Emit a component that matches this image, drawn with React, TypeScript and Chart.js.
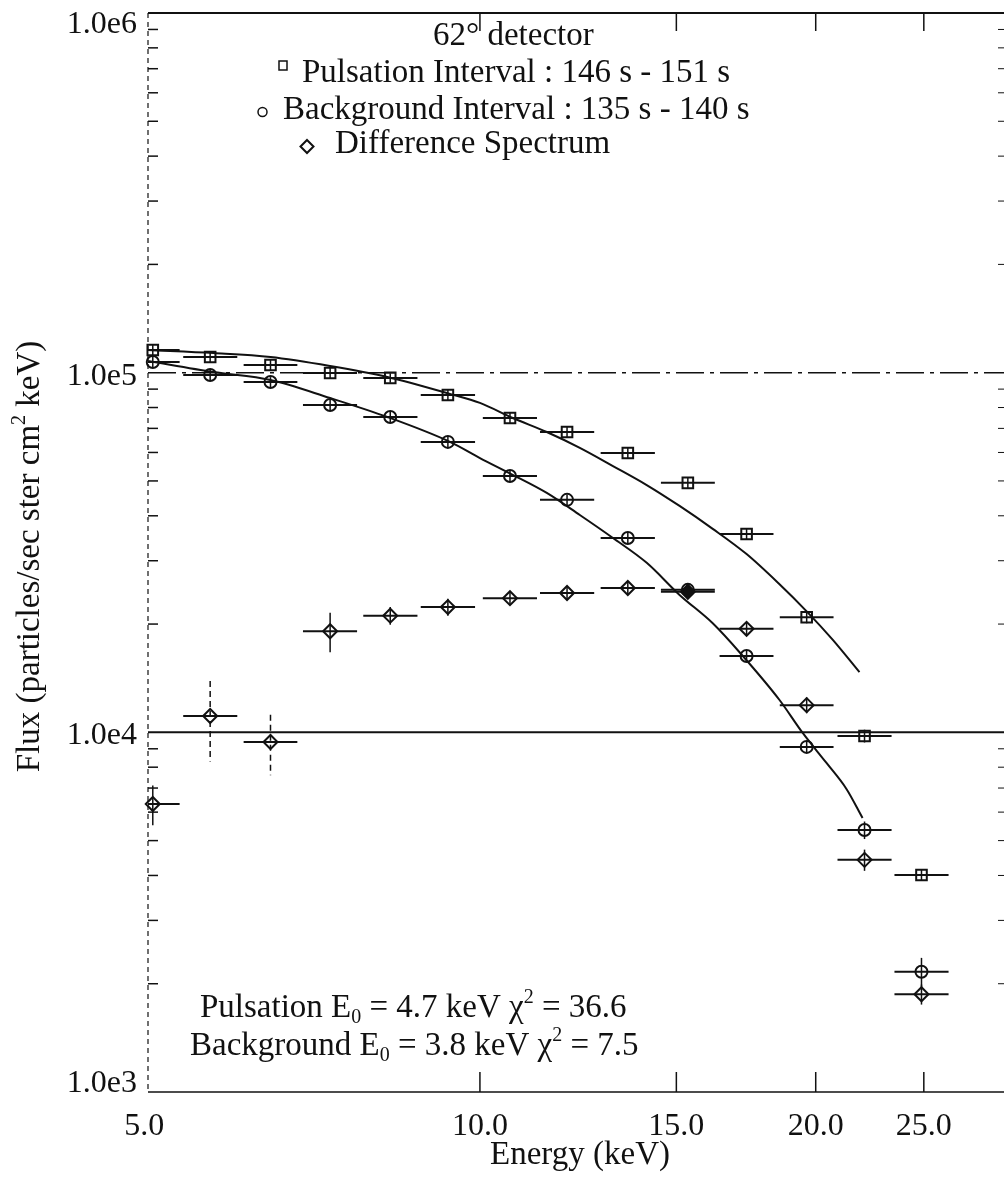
import React, { useEffect, useRef } from "react";
import { Chart, registerables } from "chart.js";

Chart.register(...registerables);

// ---- data ----
const energies = [5.09, 5.73, 6.49, 7.34, 8.31, 9.36, 10.64, 11.97, 13.57, 15.36, 17.34, 19.63, 22.12, 24.88];
const binLow = [4.81, 5.42, 6.14, 6.94, 7.86, 8.85, 10.06, 11.32, 12.83, 14.53, 16.4, 18.57, 20.92, 23.53];
const binHigh = [5.38, 6.06, 6.86, 7.76, 8.79, 9.9, 11.25, 12.66, 14.35, 16.24, 18.33, 20.75, 23.39, 26.31];

const pulsationFlux = [1.156e5, 1.106e5, 1.05e5, 9.98e4, 9.67e4, 8.67e4, 7.48e4, 6.84e4, 5.98e4, 4.94e4, 3.56e4, 2.09e4, 9.77e3, 4.01e3];
const pulsationErr = [4e3, 4e3, 3.5e3, 3.5e3, 3e3, 3e3, 2.5e3, 2.5e3, 2e3, 1.8e3, 1.3e3, 8e2, 4e2, 1.5e2];

const backgroundFlux = [1.071e5, 9.85e4, 9.42e4, 8.13e4, 7.53e4, 6.42e4, 5.16e4, 4.43e4, 3.47e4, 2.49e4, 1.63e4, 9.11e3, 5.35e3, 2.16e3];
const backgroundErr = [3.5e3, 3.5e3, 3e3, 3e3, 2.5e3, 2.2e3, 1.8e3, 1.5e3, 1.2e3, 9e2, 6e2, 3.5e2, 3e2, 2e2];

const differenceFlux = [6.32e3, 1.11e4, 9.4e3, 1.91e4, 2.11e4, 2.23e4, 2.36e4, 2.44e4, 2.52e4, 2.46e4, 1.94e4, 1.19e4, 4.42e3, 1.87e3];
const differenceErr = [8e2, 2.8e3, 1.8e3, 2.4e3, 1.2e3, 1.2e3, 1.0e3, 1.0e3, 1.0e3, 1.0e3, 8e2, 6e2, 3e2, 1.2e2];

const pulsationFitE = [5.04, 5.77, 6.49, 7.34, 8.26, 9.4, 10.0, 10.7, 11.48, 12.29, 13.16, 14.11, 15.1, 16.17, 17.34, 18.56, 19.63, 20.71, 21.89];
const pulsationFitFlux = [1.156e5, 1.134e5, 1.106e5, 1.044e5, 9.73e4, 8.73e4, 8.24e4, 7.48e4, 6.84e4, 6.18e4, 5.5e4, 4.87e4, 4.26e4, 3.68e4, 3.13e4, 2.58e4, 2.17e4, 1.81e4, 1.47e4];

const backgroundFitE = [5.04, 5.77, 6.49, 7.34, 8.26, 9.4, 10.0, 10.7, 11.48, 12.29, 13.16, 14.11, 15.1, 16.17, 17.09, 18.56, 19.47, 20.45, 21.31, 22.03];
const backgroundFitFlux = [1.078e5, 1.004e5, 9.54e4, 8.5e4, 7.53e4, 6.42e4, 5.79e4, 5.2e4, 4.63e4, 4.02e4, 3.47e4, 2.96e4, 2.41e4, 2.01e4, 1.67e4, 1.23e4, 9.96e3, 8.22e3, 6.96e3, 5.78e3];

const xTickValues = [5, 10, 15, 20, 25];
const xTickLabels = ["5.0", "10.0", "15.0", "20.0", "25.0"];
const yTickValues = [1e3, 1e4, 1e5, 1e6];
const yTickLabels = ["1.0e3", "1.0e4", "1.0e5", "1.0e6"];

const legendTitle = "62° detector";
const legendLabels = ["Pulsation Interval : 146 s - 151 s", "Background Interval : 135 s - 140 s", "Difference Spectrum"];
const xTitle = "Energy (keV)";

const FONT = '"Liberation Serif", "Times New Roman", Times, serif';

type Seg = [string, "n" | "sub" | "sup"];

function richText(ctx: CanvasRenderingContext2D, x: number, y: number, segs: Seg[], size: number, align: "left" | "center" = "left") {
  const widths = segs.map(([t, k]) => {
    ctx.font = `${k === "n" ? size : Math.round(size * 0.6)}px ${FONT}`;
    return ctx.measureText(t).width;
  });
  const total = widths.reduce((a, b) => a + b, 0);
  let cx = align === "center" ? x - total / 2 : x;
  ctx.textAlign = "left";
  ctx.textBaseline = "alphabetic";
  segs.forEach(([t, k], i) => {
    ctx.font = `${k === "n" ? size : Math.round(size * 0.6)}px ${FONT}`;
    const dy = k === "sub" ? size * 0.18 : k === "sup" ? -size * 0.42 : 0;
    ctx.fillText(t, cx, y + dy);
    cx += widths[i];
  });
}

function seg(ctx: CanvasRenderingContext2D, x1: number, y1: number, x2: number, y2: number) {
  ctx.beginPath();
  ctx.moveTo(x1, y1);
  ctx.lineTo(x2, y2);
  ctx.stroke();
}

const decorPlugin = {
  id: "decor",
  beforeDraw(chart: any) {
    const ctx = chart.ctx as CanvasRenderingContext2D;
    ctx.save();
    ctx.fillStyle = "#fff";
    ctx.fillRect(0, 0, chart.width, chart.height);
    ctx.restore();
  },
  beforeDatasetsDraw(chart: any) {
    const ctx = chart.ctx as CanvasRenderingContext2D;
    const a = chart.chartArea;
    const x = chart.scales.x;
    const y = chart.scales.y;
    ctx.save();
    ctx.strokeStyle = "#111";
    // decade grid lines
    let py = y.getPixelForValue(1e4);
    ctx.lineWidth = 2;
    seg(ctx, a.left, py, a.right, py);
    py = y.getPixelForValue(1e5);
    ctx.lineWidth = 1.5;
    ctx.setLineDash([28, 6, 4, 6]);
    seg(ctx, a.left, py, a.right, py);
    ctx.setLineDash([]);

    // error bars
    ctx.beginPath();
    ctx.rect(a.left, a.top, a.right - a.left, a.bottom - a.top);
    ctx.clip();
    const series = [
      [pulsationFlux, pulsationErr],
      [backgroundFlux, backgroundErr],
      [differenceFlux, differenceErr],
    ];
    series.forEach(([vals, errs]) => {
      vals.forEach((v, i) => {
        const cy = y.getPixelForValue(v);
        ctx.lineWidth = 2;
        ctx.setLineDash([]);
        seg(ctx, x.getPixelForValue(binLow[i]), cy, x.getPixelForValue(binHigh[i]), cy);
        const cx = x.getPixelForValue(energies[i]);
        const top = y.getPixelForValue(v + errs[i]);
        const bot = y.getPixelForValue(v - errs[i]);
        ctx.lineWidth = 1.5;
        if (bot - top > 50) ctx.setLineDash([6, 4]);
        seg(ctx, cx, top, cx, bot);
        ctx.setLineDash([]);
      });
    });
    ctx.restore();
  },
  afterDraw(chart: any) {
    const ctx = chart.ctx as CanvasRenderingContext2D;
    const a = chart.chartArea;
    const x = chart.scales.x;
    const y = chart.scales.y;
    ctx.save();
    ctx.strokeStyle = "#111";
    ctx.fillStyle = "#111";

    // frame
    ctx.lineWidth = 2;
    seg(ctx, a.left, a.top, a.right, a.top);
    ctx.lineWidth = 1.5;
    seg(ctx, a.left, a.bottom, a.right, a.bottom);
    ctx.lineWidth = 1.2;
    ctx.setLineDash([5, 4]);
    seg(ctx, a.left, a.top, a.left, a.bottom);
    ctx.setLineDash([]);

    // minor y ticks (left, inward) and faint right ticks
    for (let d = 1e3; d < 1e6; d *= 10) {
      for (let m = 2; m <= 9; m++) {
        const py = y.getPixelForValue(d * m);
        ctx.lineWidth = 1.5;
        seg(ctx, a.left, py, a.left + 10, py);
        ctx.lineWidth = 1;
        seg(ctx, a.right - 6, py, a.right, py);
      }
    }

    // x ticks top and bottom
    ctx.lineWidth = 1.5;
    xTickValues.slice(1).forEach((v) => {
      const px = x.getPixelForValue(v);
      seg(ctx, px, a.top, px, a.top + 18);
      seg(ctx, px, a.bottom, px, a.bottom - 20);
    });

    // tick labels
    ctx.font = `32px ${FONT}`;
    ctx.textAlign = "center";
    ctx.textBaseline = "alphabetic";
    xTickValues.forEach((v, i) => {
      ctx.fillText(xTickLabels[i], x.getPixelForValue(v), a.bottom + 43);
    });
    ctx.textAlign = "right";
    yTickValues.forEach((v, i) => {
      const py = Math.min(Math.max(y.getPixelForValue(v) + 12, a.top + 20), a.bottom);
      ctx.fillText(yTickLabels[i], 137, py);
    });

    // axis titles
    ctx.textAlign = "center";
    ctx.font = `33px ${FONT}`;
    ctx.fillText(xTitle, (a.left + a.right) / 2 + 4, 1164);

    ctx.save();
    ctx.translate(39, (a.top + a.bottom) / 2 + 4);
    ctx.rotate(-Math.PI / 2);
    richText(ctx, 0, 0, [["Flux (particles/sec ster cm", "n"], ["2", "sup"], [" keV)", "n"]], 33, "center");
    ctx.restore();

    // legend
    ctx.font = `33px ${FONT}`;
    ctx.textAlign = "left";
    ctx.fillText(legendTitle, 433, 45);
    ctx.fillText(legendLabels[0], 302, 82);
    ctx.fillText(legendLabels[1], 283, 119);
    ctx.fillText(legendLabels[2], 335, 153);
    ctx.lineWidth = 1.5;
    ctx.strokeRect(279, 61, 8, 9);
    ctx.beginPath();
    ctx.arc(262.5, 112, 4.5, 0, Math.PI * 2);
    ctx.stroke();
    ctx.lineWidth = 2;
    ctx.beginPath();
    ctx.moveTo(307, 140);
    ctx.lineTo(313.5, 146.5);
    ctx.lineTo(307, 153);
    ctx.lineTo(300.5, 146.5);
    ctx.closePath();
    ctx.stroke();

    // fit annotations
    richText(ctx, 200, 1017, [["Pulsation E", "n"], ["0", "sub"], [" = 4.7 keV ", "n"], ["χ", "n"], ["2", "sup"], [" = 36.6", "n"]], 33);
    richText(ctx, 190, 1055, [["Background E", "n"], ["0", "sub"], [" = 3.8 keV ", "n"], ["χ", "n"], ["2", "sup"], [" = 7.5", "n"]], 33);

    ctx.restore();
  },
};

function pts(xs: number[], ys: number[]) {
  return xs.map((v, i) => ({ x: v, y: ys[i] }));
}

export default function App() {
  const ref = useRef<HTMLCanvasElement | null>(null);
  useEffect(() => {
    if (!ref.current) return;
    const chart = new Chart(ref.current, {
      type: "scatter",
      data: {
        datasets: [
          {
            label: "Pulsation fit",
            data: pts(pulsationFitE, pulsationFitFlux),
            showLine: true,
            borderColor: "#111",
            borderWidth: 2,
            pointRadius: 0,
            cubicInterpolationMode: "monotone",
          },
          {
            label: "Background fit",
            data: pts(backgroundFitE, backgroundFitFlux),
            showLine: true,
            borderColor: "#111",
            borderWidth: 2,
            pointRadius: 0,
            cubicInterpolationMode: "monotone",
          },
          {
            label: "Pulsation Interval",
            data: pts(energies, pulsationFlux),
            pointStyle: "rect",
            pointRadius: 7.5,
            borderColor: "#111",
            backgroundColor: "rgba(0,0,0,0)",
            borderWidth: 2,
            clip: false,
          },
          {
            label: "Background Interval",
            data: pts(energies, backgroundFlux),
            pointStyle: "circle",
            pointRadius: 6,
            borderColor: "#111",
            backgroundColor: "rgba(0,0,0,0)",
            borderWidth: 2,
            clip: false,
          },
          {
            label: "Difference Spectrum",
            data: pts(energies, differenceFlux),
            pointStyle: "rectRot",
            pointRadius: 7,
            borderColor: "#111",
            backgroundColor: energies.map((_, i) => (i === 9 ? "#111" : "rgba(0,0,0,0)")),
            borderWidth: 2,
            clip: false,
          },
        ],
      },
      options: {
        responsive: false,
        animation: false,
        devicePixelRatio: 1,
        layout: { autoPadding: false, padding: { left: 148, right: 1, top: 13, bottom: 90 } },
        plugins: { legend: { display: false }, tooltip: { enabled: false } },
        scales: {
          x: { type: "logarithmic", min: 5.04, max: 29.5, display: false },
          y: { type: "logarithmic", min: 1e3, max: 1e6, display: false },
        },
      },
      plugins: [decorPlugin],
    } as any);
    return () => chart.destroy();
  }, []);
  return (
    <canvas
      ref={ref}
      width={1005}
      height={1182}
      style={{ position: "absolute", left: 0, top: 0, display: "block" }}
    />
  );
}
